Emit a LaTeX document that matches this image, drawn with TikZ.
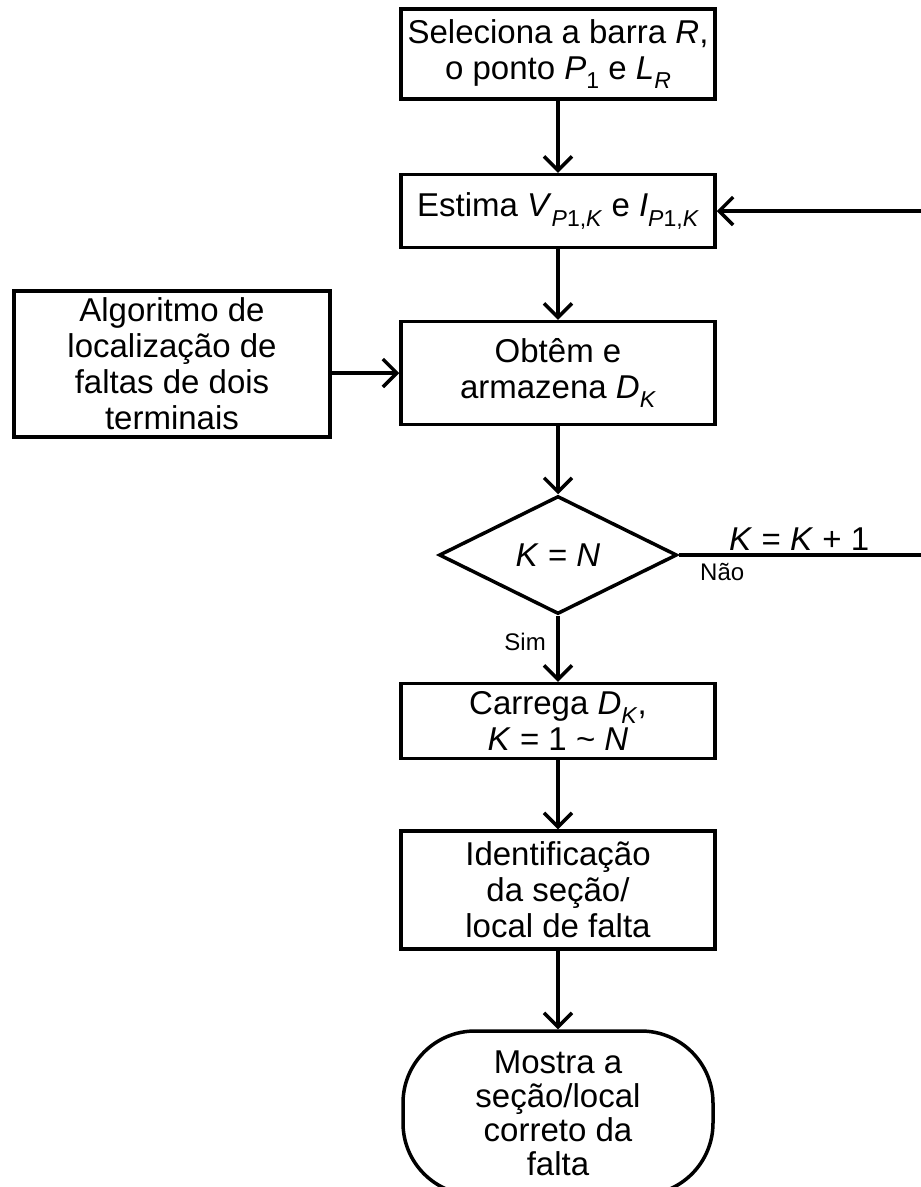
\documentclass[tikz,border=0pt]{standalone}
\usepackage{fontspec}
\setmainfont{Liberation Sans}
\usetikzlibrary{shapes.geometric,arrows.meta}
\tikzset{
  caixa/.style={draw,line width=3.5pt,minimum width=314pt,align=center,inner sep=0pt},
  fluxo/.style={line width=3.5pt,-{Straight Barb[length=14pt,width=28pt]}},
  rotulo/.style={inner sep=0pt,font=\fontsize{24}{28}\selectfont}
}
\newcommand{\vv}[1]{\textit{#1}}
\newcommand{\sbx}[1]{\raisebox{-0.28em}{\fontsize{23}{23}\selectfont#1}}
\begin{document}
\begin{tikzpicture}[x=1pt,y=-1pt,font=\fontsize{33}{36}\selectfont]
\useasboundingbox (0,0) rectangle (921,1187);
\node[caixa,minimum height=90pt] (sel) at (558,54) {Seleciona a barra \vv{R},\\o ponto \vv{P}\sbx{1} e \vv{L}\sbx{\vv{R}}};
\node[caixa,minimum height=73pt] (est) at (558,211) {Estima \vv{V}\sbx{\vv{P}1,\vv{K}} e \vv{I}\sbx{\vv{P}1,\vv{K}}};
\node[caixa,minimum height=103pt] (obt) at (558,373) {Obtêm e\\armazena \vv{D}\sbx{\vv{K}}};
\node[caixa,minimum height=146pt,minimum width=316pt] (alg) at (172,364) {Algoritmo de\\localização de\\faltas de dois\\terminais};
\node[draw,diamond,line width=3.5pt,minimum width=238pt,minimum height=118pt,inner sep=0pt] (dec) at (558,555) {\vv{K} = \vv{N}};
\node[caixa,minimum height=75pt] (car) at (558,721) {Carrega \vv{D}\sbx{\vv{K}},\\\vv{K} = 1 \textasciitilde{} \vv{N}};
\node[caixa,minimum height=118pt] (idt) at (558,890) {Identificação\\da seção/\\local de falta};
\node[caixa,rounded corners=72pt,minimum width=310pt,minimum height=164pt,font=\fontsize{33}{34}\selectfont] (fim) at (558,1113) {Mostra a\\seção/local\\correto da\\falta};
\coordinate (c1) at (935,555);
\coordinate (c2) at (935,211);
\draw[fluxo] (sel) -- (est);
\draw[fluxo] (est) -- (obt);
\draw[fluxo] (alg.east |- obt.west) -- (obt.west);
\draw[fluxo] (obt) -- (dec);
\draw[fluxo] (dec) -- (car);
\draw[fluxo] (car) -- (idt);
\draw[fluxo] (idt) -- (fim);
\draw[fluxo] (dec.east) -- node[pos=0.47,above,inner sep=3pt] (inc) {\vv{K} = \vv{K} + 1} (c1) -- (c2) -- (est.east);
\node[rotulo,anchor=north west] (nao) at (700,563) {Não};
\node[rotulo,anchor=base east] (sim) at (546,650) {Sim};
\end{tikzpicture}
\end{document}
